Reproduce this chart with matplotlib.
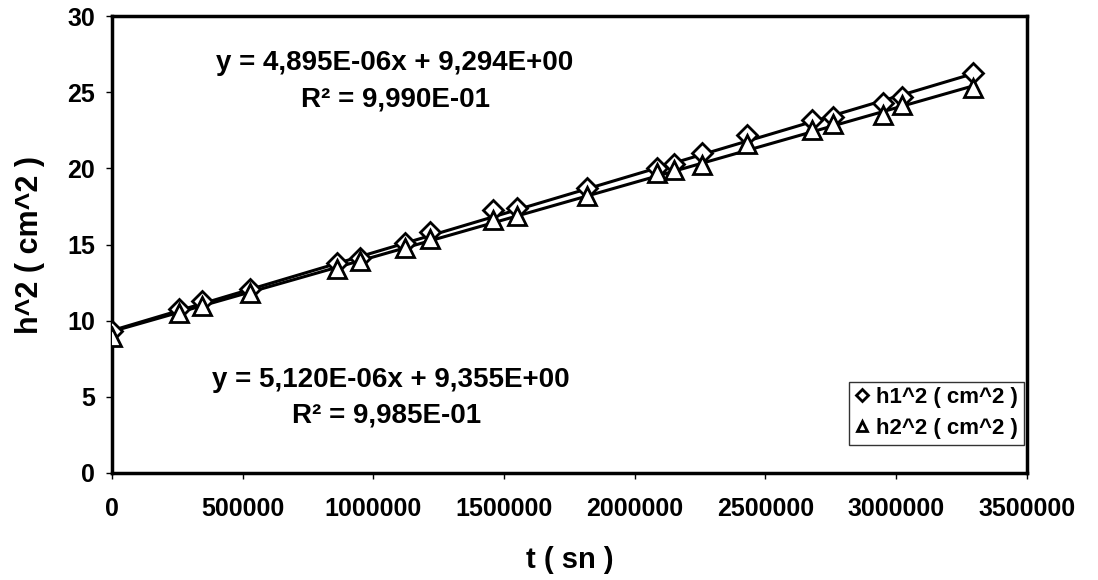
import numpy as np
import matplotlib.pyplot as plt

plt.rcParams["font.family"] = ["Liberation Sans", "DejaVu Sans"]
plt.rcParams["font.weight"] = "bold"

# time (s) and squared heads (cm^2)
t = [0, 256000, 344000, 528000, 861000, 949000, 1121000, 1217000, 1458000, 1549000,
     1817000, 2085000, 2150000, 2257000, 2429000, 2678000, 2758000, 2949000, 3022000, 3294000]
h1_sq = [9.3, 10.8, 11.3, 12.1, 13.8, 14.1, 15.1, 15.8, 17.3, 17.4,
         18.7, 20.0, 20.3, 21.0, 22.2, 23.2, 23.4, 24.3, 24.7, 26.3]
h2_sq = [8.9, 10.5, 11.0, 11.8, 13.4, 13.9, 14.8, 15.4, 16.6, 16.9,
         18.2, 19.7, 19.9, 20.2, 21.6, 22.5, 22.9, 23.5, 24.2, 25.3]

# trend line coefficients shown on the chart
fit1 = (5.120e-06, 9.355)
fit2 = (4.895e-06, 9.294)
eq1 = ["y = 5,120E-06x + 9,355E+00", "R² = 9,985E-01"]
eq2 = ["y = 4,895E-06x + 9,294E+00", "R² = 9,990E-01"]

fig = plt.figure(figsize=(10.98, 5.8), dpi=100)
ax = fig.add_axes([0.102, 0.1845, 0.833, 0.7875])

tt = np.array([0, max(t)])
ax.plot(tt, fit1[0] * tt + fit1[1], color="black", lw=2.2, zorder=2)
ax.plot(tt, fit2[0] * tt + fit2[1], color="black", lw=2.2, zorder=2)

ax.plot(t, h1_sq, ls="none", marker="D", ms=10, mfc="white", mec="black", mew=2,
        label="h1^2 ( cm^2 )", zorder=3)
ax.plot(t, h2_sq, ls="none", marker="^", ms=13, mfc="white", mec="black", mew=2,
        label="h2^2 ( cm^2 )", zorder=3)

ax.set_xlim(0, 3500000)
ax.set_ylim(0, 30)
ax.set_xticks(np.arange(0, 3500001, 500000))
ax.set_yticks(np.arange(0, 31, 5))
ax.ticklabel_format(axis="x", style="plain", useOffset=False)
ax.tick_params(labelsize=18, length=4, width=1)
ax.tick_params(axis="x", pad=13)
ax.tick_params(axis="y", pad=8)
for s in ax.spines.values():
    s.set_linewidth(2.5)

ax.set_xlabel("t ( sn )", fontsize=21, fontweight="bold", labelpad=18)
ax.set_ylabel("h^2 ( cm^2 )", fontsize=22, fontweight="bold", labelpad=16)

ax.text(1083000, 26.9, eq2[0], ha="center", va="center", fontsize=20, fontweight="bold")
ax.text(1083000, 24.5, eq2[1], ha="center", va="center", fontsize=20, fontweight="bold")
ax.text(1067000, 6.1, eq1[0], ha="center", va="center", fontsize=20, fontweight="bold")
ax.text(1050000, 3.8, eq1[1], ha="center", va="center", fontsize=20, fontweight="bold")

leg = ax.legend(loc="lower right", bbox_to_anchor=(0.997, 0.062), fontsize=16,
                frameon=True, fancybox=False, edgecolor="black", handlelength=0.7,
                handletextpad=0.3, borderpad=0.25, labelspacing=0.45, borderaxespad=0,
                markerscale=0.6)
leg.get_frame().set_linewidth(1)

plt.savefig("out.png", dpi=100)
